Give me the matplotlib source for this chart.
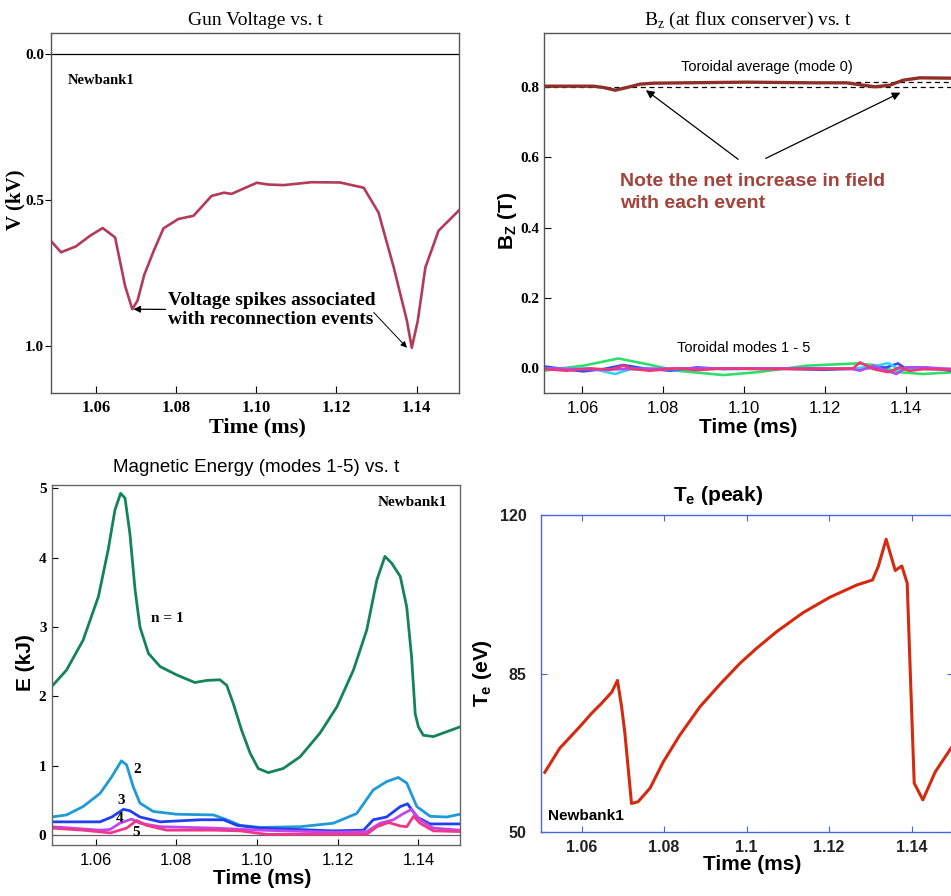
import matplotlib
matplotlib.use('Agg')
import matplotlib.pyplot as plt

SERIF = 'Liberation Serif'
SANS = 'Liberation Sans'

# ---------------- data ----------------
# Gun voltage (top left)
gv_t = [1.0486, 1.0512, 1.0549, 1.0584, 1.0616, 1.0647, 1.0672, 1.0690, 1.0703, 1.0720,
        1.0743, 1.0768, 1.0805, 1.0843, 1.0888, 1.0919, 1.0938, 1.0976, 1.1001, 1.1030,
        1.1068, 1.1138, 1.1209, 1.1268, 1.1305, 1.1343, 1.1376, 1.1388, 1.1403, 1.1422,
        1.1455, 1.1507]
gv_v = [0.639, 0.679, 0.659, 0.623, 0.596, 0.628, 0.794, 0.874, 0.845, 0.756,
        0.676, 0.597, 0.565, 0.554, 0.486, 0.475, 0.479, 0.456, 0.441, 0.447,
        0.449, 0.439, 0.440, 0.458, 0.543, 0.731, 0.914, 1.006, 0.914, 0.731,
        0.605, 0.534]

# Bz toroidal average (mode 0)
bz0_t = [1.0505, 1.0627, 1.0652, 1.0681, 1.0710, 1.0742, 1.0775, 1.1006, 1.1170, 1.1253,
         1.1294, 1.1323, 1.1360, 1.1393, 1.1434, 1.1516]
bz0_v = [0.8019, 0.8019, 0.7981, 0.7905, 0.7981, 0.8076, 0.8104, 0.8133, 0.8114, 0.8114,
         0.8047, 0.8000, 0.8047, 0.8189, 0.8256, 0.8246]
bz_level0 = 0.800
bz_level1 = 0.8133

# Bz toroidal modes 1-5
bz1_t = [1.0504, 1.0602, 1.0689, 1.0759, 1.0833, 1.0948, 1.1031, 1.1154, 1.1278, 1.1319, 1.1384, 1.1442, 1.1516]
bz1_v = [-0.0066, 0.0076, 0.028, 0.012, -0.0066, -0.019, -0.011, 0.0076, 0.014, 0.0095, -0.011, -0.016, -0.011]
bz2_t = [1.0504, 1.0553, 1.0602, 1.0652, 1.0701, 1.0751, 1.0817, 1.0883, 1.0948, 1.1072, 1.1195, 1.1294, 1.1352, 1.1380, 1.1401, 1.1442, 1.1516]
bz2_v = [0.0057, -0.002, -0.0085, -0.002, 0.0095, 0.0, -0.0066, 0.0028, -0.002, 0.0, -0.004, 0.0, 0.003, 0.014, -0.002, 0.003, -0.007]
bz3_t = [1.0504, 1.0619, 1.0681, 1.0718, 1.0866, 1.1113, 1.1278, 1.1327, 1.1356, 1.1384, 1.1442, 1.1516]
bz3_v = [-0.002, 0.0, -0.016, -0.002, -0.002, 0.0, 0.0, 0.0076, 0.015, -0.004, -0.002, -0.002]
bz4_t = [1.0504, 1.0660, 1.0701, 1.0866, 1.1195, 1.1269, 1.1286, 1.1319, 1.1352, 1.1376, 1.1401, 1.1442, 1.1516]
bz4_v = [0.0, -0.004, -0.002, 0.0, 0.0, -0.002, -0.0066, 0.0076, -0.0066, -0.016, 0.003, 0.003, -0.002]
bz5_t = [1.0504, 1.0562, 1.0619, 1.0668, 1.0701, 1.0726, 1.0767, 1.0833, 1.0883, 1.0948, 1.1031, 1.1195, 1.1269, 1.1286, 1.1319, 1.1356, 1.1384, 1.1409, 1.1442, 1.1516]
bz5_v = [-0.002, -0.0066, 0.0, -0.004, 0.0076, -0.002, -0.0066, 0.0, -0.005, 0.0, -0.002, -0.002, 0.0, 0.017, -0.002, -0.011, 0.003, -0.007, -0.002, -0.004]

# Magnetic energy (bottom left)
e1_t = [1.0491, 1.0528, 1.0569, 1.0607, 1.0631, 1.0648, 1.0662, 1.0673, 1.0685, 1.0698,
        1.0710, 1.0731, 1.0760, 1.0801, 1.0846, 1.0875, 1.0908, 1.0925, 1.0941, 1.0962,
        1.0983, 1.1003, 1.1028, 1.1065, 1.1107, 1.1156, 1.1198, 1.1239, 1.1272, 1.1297,
        1.1317, 1.1334, 1.1355, 1.1371, 1.1383, 1.1392, 1.1400, 1.1412, 1.1437, 1.1470,
        1.1503]
e1_v = [2.14, 2.38, 2.81, 3.44, 4.11, 4.69, 4.93, 4.86, 4.35, 3.53,
        3.00, 2.62, 2.43, 2.31, 2.20, 2.23, 2.24, 2.16, 1.90, 1.51,
        1.18, 0.96, 0.90, 0.96, 1.13, 1.47, 1.85, 2.38, 2.96, 3.68,
        4.02, 3.92, 3.73, 3.29, 2.57, 1.75, 1.56, 1.44, 1.42, 1.49,
        1.56]
e2_t = [1.0491, 1.0528, 1.0569, 1.0611, 1.0640, 1.0664, 1.0677, 1.0693, 1.0710, 1.0743,
        1.0801, 1.0892, 1.0925, 1.0958, 1.1007, 1.1107, 1.1189, 1.1247, 1.1288, 1.1321,
        1.1350, 1.1371, 1.1396, 1.1429, 1.1470, 1.1503]
e2_v = [0.26, 0.29, 0.41, 0.60, 0.84, 1.07, 1.01, 0.70, 0.46, 0.34,
        0.30, 0.29, 0.22, 0.14, 0.11, 0.12, 0.17, 0.31, 0.65, 0.77,
        0.83, 0.75, 0.41, 0.27, 0.26, 0.30]
e3_t = [1.0491, 1.0611, 1.0640, 1.0669, 1.0685, 1.0710, 1.0760, 1.0859, 1.0917, 1.0950,
        1.1007, 1.1189, 1.1264, 1.1288, 1.1321, 1.1355, 1.1373, 1.1396, 1.1429, 1.1503]
e3_v = [0.19, 0.19, 0.26, 0.37, 0.35, 0.26, 0.19, 0.22, 0.22, 0.14,
        0.10, 0.06, 0.07, 0.22, 0.26, 0.41, 0.45, 0.26, 0.16, 0.16]
e4_t = [1.0491, 1.0611, 1.0636, 1.0660, 1.0689, 1.0710, 1.0760, 1.0892, 1.1007, 1.1189,
        1.1272, 1.1305, 1.1338, 1.1363, 1.1383, 1.1404, 1.1437, 1.1503]
e4_v = [0.12, 0.07, 0.08, 0.17, 0.23, 0.17, 0.12, 0.10, 0.07, 0.04,
        0.05, 0.17, 0.22, 0.31, 0.37, 0.22, 0.10, 0.07]
e5_t = [1.0491, 1.0569, 1.0637, 1.0677, 1.0702, 1.0726, 1.0776, 1.0892, 1.0958, 1.1024,
        1.1189, 1.1272, 1.1297, 1.1326, 1.1355, 1.1371, 1.1388, 1.1404, 1.1437, 1.1503]
e5_v = [0.10, 0.07, 0.03, 0.10, 0.21, 0.14, 0.07, 0.07, 0.06, 0.01,
        0.01, 0.01, 0.12, 0.18, 0.13, 0.12, 0.27, 0.17, 0.06, 0.05]

# Te peak (bottom right)
te_t = [1.0511, 1.0547, 1.0596, 1.0624, 1.0648, 1.0673, 1.0687, 1.0697, 1.0705, 1.0721,
        1.0737, 1.0766, 1.0798, 1.0838, 1.0887, 1.0935, 1.0984, 1.1024, 1.1073, 1.1137,
        1.1202, 1.1267, 1.1305, 1.1319, 1.1338, 1.1360, 1.1376, 1.1389, 1.1396, 1.1406,
        1.1427, 1.1457, 1.1495]
te_v = [63.2, 68.5, 73.3, 76.2, 78.4, 80.9, 83.5, 77.7, 71.8, 56.3,
        56.7, 59.7, 65.5, 71.4, 77.7, 82.6, 87.3, 90.6, 94.3, 98.5,
        101.9, 104.6, 105.7, 108.7, 114.7, 107.8, 108.8, 105.0, 86.6, 60.8,
        57.1, 63.3, 68.5]

time_ticks = [1.06, 1.08, 1.10, 1.12, 1.14]
time_labels = ['1.06', '1.08', '1.10', '1.12', '1.14']
time_labels_te = ['1.06', '1.08', '1.1', '1.12', '1.14']

# ---------------- figure ----------------
W, H = 951, 896
fig = plt.figure(figsize=(W / 100, H / 100), dpi=100)


def axes_px(l, t, r, b):
    return fig.add_axes([l / W, 1 - b / H, (r - l) / W, (b - t) / H])


# ---- Top left: Gun voltage ----
ax1 = axes_px(51, 33, 459, 393)
ax1.plot(gv_t, gv_v, color='#b23a5a', lw=1.9)
ax1.axhline(0.0, color='black', lw=0.9)
ax1.set_xlim(1.0487, 1.1506)
ax1.set_ylim(1.161, -0.072)
ax1.set_xticks(time_ticks)
ax1.set_xticklabels(time_labels, fontfamily=SERIF, fontweight='bold', fontsize=12)
ax1.set_yticks([0.0, 0.5, 1.0])
ax1.set_yticklabels(['0.0', '0.5', '1.0'], fontfamily=SERIF, fontweight='bold', fontsize=11)
ax1.tick_params(axis='x', direction='in', length=5, pad=5)
ax1.tick_params(axis='y', direction='out', length=4, pad=1)
for s in ax1.spines.values():
    s.set_color('#555555'); s.set_linewidth(1.0)
ax1.set_title('Gun Voltage vs. t', fontfamily=SERIF, fontsize=14, pad=6)
ax1.set_xlabel('Time (ms)', fontfamily=SERIF, fontweight='bold', fontsize=16, va='center')
ax1.xaxis.set_label_coords(0.506, -0.097)
ax1.set_ylabel('V (kV)', fontfamily=SERIF, fontweight='bold', fontsize=15, va='center')
ax1.yaxis.set_label_coords(-0.087, 0.536)
ax1.text(1.053, 0.089, 'Newbank1', fontfamily=SERIF, fontweight='bold', fontsize=10.5,
         ha='left', va='center')
ax1.annotate('Voltage spikes associated\nwith reconnection events',
             xy=(1.0693, 0.874), xytext=(1.0780, 0.877),
             fontfamily=SERIF, fontweight='bold', fontsize=14, ha='left', va='center',
             linespacing=1.12,
             arrowprops=dict(arrowstyle='-|>', color='black', lw=0.9, mutation_scale=10,
                             shrinkA=0, shrinkB=0))
ax1.annotate('', xy=(1.1376, 1.006), xytext=(1.1293, 0.885),
             arrowprops=dict(arrowstyle='-|>', color='black', lw=0.7, mutation_scale=9,
                             shrinkA=0, shrinkB=0))

# ---- Top right: Bz ----
ax2 = axes_px(544, 33, 953, 393)
ax2.axhline(bz_level0, color='black', lw=0.9, ls=(0, (4, 3)))
ax2.hlines(bz_level1, 1.1253, 1.1516, color='black', lw=0.9, ls=(0, (4, 3)))
ax2.plot(bz0_t, bz0_v, color='#8e3029', lw=2.4)
mode_cols = ['#2ee06a', '#2f4ff0', '#36d0f5', '#b04cf0', '#f0367a']
for tt, vv, c in zip([bz1_t, bz2_t, bz3_t, bz4_t, bz5_t],
                     [bz1_v, bz2_v, bz3_v, bz4_v, bz5_v], mode_cols):
    ax2.plot(tt, vv, color=c, lw=1.9)
ax2.set_xlim(1.0505, 1.1516)
ax2.set_ylim(-0.070, 0.953)
ax2.set_xticks(time_ticks)
ax2.set_xticklabels(time_labels, fontfamily=SANS, fontsize=12)
ax2.set_yticks([0.0, 0.2, 0.4, 0.6, 0.8])
ax2.set_yticklabels(['0.0', '0.2', '0.4', '0.6', '0.8'], fontfamily=SERIF,
                    fontweight='bold', fontsize=11)
ax2.tick_params(axis='both', direction='in', length=5)
ax2.tick_params(axis='x', pad=6)
ax2.tick_params(axis='y', pad=3)
for s in ax2.spines.values():
    s.set_color('#555555'); s.set_linewidth(1.0)
ax2.set_title(r'B$_\mathregular{z}$ (at flux conserver) vs. t', fontfamily=SERIF,
              fontsize=14, pad=6)
ax2.set_xlabel('Time (ms)', fontfamily=SANS, fontweight='bold', fontsize=15, va='center')
ax2.xaxis.set_label_coords(0.499, -0.097)
ax2.set_ylabel(r'B$_\mathregular{Z}$ (T)', fontfamily=SANS, fontweight='bold', fontsize=15,
               va='center')
ax2.yaxis.set_label_coords(-0.09, 0.478)
ax2.text(1.1057, 0.857, 'Toroidal average (mode 0)', fontfamily=SANS, fontsize=10.5,
         ha='center', va='center')
ax2.text(1.0998, 0.057, 'Toroidal modes 1 - 5', fontfamily=SANS, fontsize=10.5,
         ha='center', va='center')
ax2.text(1.0693, 0.50, 'Note the net increase in field\nwith each event', color='#a3433b',
         fontfamily=SANS, fontweight='bold', fontsize=14, ha='left', va='center',
         linespacing=1.4)
ax2.annotate('', xy=(1.0757, 0.7906), xytext=(1.0985, 0.594),
             arrowprops=dict(arrowstyle='-|>', color='black', lw=0.9, mutation_scale=12,
                             shrinkA=0, shrinkB=0))
ax2.annotate('', xy=(1.1386, 0.7835), xytext=(1.1053, 0.5966),
             arrowprops=dict(arrowstyle='-|>', color='black', lw=0.9, mutation_scale=12,
                             shrinkA=0, shrinkB=0))

# ---- Bottom left: Magnetic energy ----
ax3 = axes_px(52, 485, 460, 845)
ax3.axhline(0.0, color='#666666', lw=0.9)
e_cols = ['#14835a', '#1e9ad6', '#1f3ff0', '#c047ef', '#f0378a']
for tt, vv, c in zip([e1_t, e2_t, e3_t, e4_t, e5_t], [e1_v, e2_v, e3_v, e4_v, e5_v], e_cols):
    ax3.plot(tt, vv, color=c, lw=2.0)
ax3.set_xlim(1.0492, 1.1503)
ax3.set_ylim(-0.144, 5.05)
ax3.set_xticks(time_ticks)
ax3.set_xticklabels(time_labels, fontfamily=SANS, fontsize=12)
ax3.set_yticks([0, 1, 2, 3, 4, 5])
ax3.set_yticklabels(['0', '1', '2', '3', '4', '5'], fontfamily=SERIF, fontweight='bold',
                    fontsize=11)
ax3.tick_params(axis='both', direction='in', length=4)
ax3.tick_params(axis='x', pad=6)
ax3.tick_params(axis='y', pad=4)
for s in ax3.spines.values():
    s.set_color('#666666'); s.set_linewidth(1.0)
ax3.set_title('Magnetic Energy (modes 1-5) vs. t', fontfamily=SANS, fontsize=13.5, pad=9)
ax3.set_xlabel('Time (ms)', fontfamily=SANS, fontweight='bold', fontsize=15, va='center')
ax3.xaxis.set_label_coords(0.516, -0.092)
ax3.set_ylabel('E (kJ)', fontfamily=SANS, fontweight='bold', fontsize=15, va='center')
ax3.yaxis.set_label_coords(-0.066, 0.506)
ax3.text(1.0777, 3.13, 'n = 1', fontfamily=SERIF, fontweight='bold', fontsize=11,
         ha='center', va='center')
for lx, ly, lt in [(1.0703, 0.94, '2'), (1.0663, 0.50, '3'), (1.0660, 0.245, '4'),
                   (1.0700, 0.03, '5')]:
    ax3.text(lx, ly, lt, fontfamily=SERIF, fontweight='bold', fontsize=11,
             ha='center', va='center')
ax3.text(1.1385, 4.8, 'Newbank1', fontfamily=SERIF, fontweight='bold', fontsize=11,
         ha='center', va='center')

# ---- Bottom right: Te peak ----
ax4 = axes_px(540.7, 515.3, 953, 832)
ax4.plot(te_t, te_v, color='#d42a10', lw=2.2)
ax4.set_xlim(1.0501, 1.1500)
ax4.set_ylim(50, 120)
ax4.set_xticks(time_ticks)
ax4.set_xticklabels(time_labels_te, fontfamily=SANS, fontweight='bold', fontsize=11.5,
                    color='#222222')
ax4.set_yticks([50, 85, 120])
ax4.set_yticklabels(['50', '85', '120'], fontfamily=SANS, fontweight='bold', fontsize=11.5,
                    color='#222222')
ax4.tick_params(axis='both', direction='in', length=4, color='#4a66dd',
                top=True, right=True)
ax4.tick_params(axis='x', pad=6)
ax4.tick_params(axis='y', pad=10)
for s in ax4.spines.values():
    s.set_color('#4a66dd'); s.set_linewidth(1.0)
ax4.text(0.431, 1.064, r'T$_\mathregular{e}$ (peak)', transform=ax4.transAxes,
         fontfamily=SANS, fontweight='bold', fontsize=15, ha='center', va='center')
ax4.set_xlabel('Time (ms)', fontfamily=SANS, fontweight='bold', fontsize=15, va='center')
ax4.xaxis.set_label_coords(0.514, -0.104)
ax4.set_ylabel(r'T$_\mathregular{e}$ (eV)', fontfamily=SANS, fontweight='bold', fontsize=15,
               va='center')
ax4.yaxis.set_label_coords(-0.14, 0.502)
ax4.text(1.0519, 53.5, 'Newbank1', fontfamily=SANS, fontweight='bold', fontsize=11,
         ha='left', va='center')

fig.savefig('out.png', dpi=100)
